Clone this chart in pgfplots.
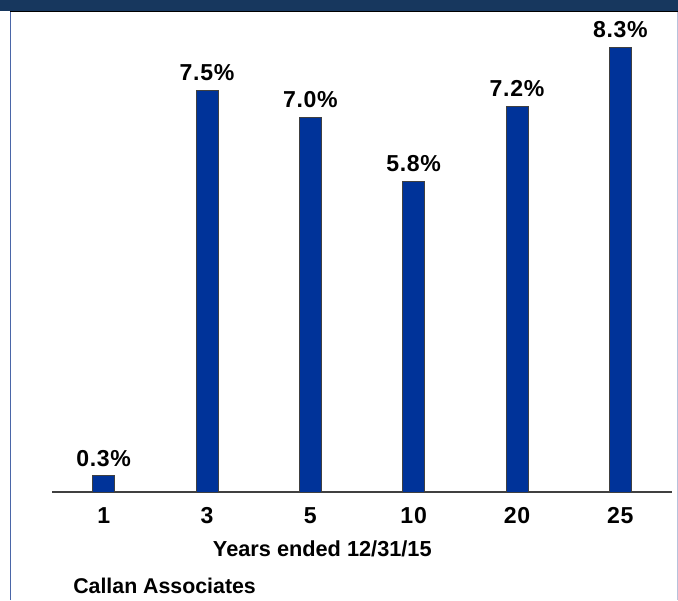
\documentclass[border=0pt]{standalone}
\usepackage{pgfplots}
\pgfplotsset{compat=1.18}
\usepackage{fontspec}
\setmainfont{Liberation Sans}
\definecolor{barblue}{HTML}{003399}
\definecolor{header}{HTML}{17375E}
\definecolor{frameblue}{HTML}{4A66A8}
\newcommand{\lblfont}{\fontsize{17.3}{20}\selectfont\bfseries\addfontfeature{LetterSpace=3}}
\begin{document}
\begin{tikzpicture}
  % page frame: 678 x 600 px at 0.75pt per px
  \path[use as bounding box] (0,0) rectangle (508.5pt,450pt);
  \fill[header] (0,441.5pt) rectangle (508.5pt,450pt);
  \draw[black, line width=1pt] (7.5pt,441.5pt) -- (508.5pt,441.5pt);
  \draw[frameblue, line width=0.75pt] (7.5pt,0) -- (7.5pt,441pt);
  \draw[frameblue!40, line width=0.75pt] (507.9pt,0) -- (507.9pt,441pt);

  \begin{axis}[
      at={(39pt,81pt)},
      anchor=south west,
      scale only axis,
      width=465pt,
      height=360pt,
      xmin=-0.5, xmax=5.5,
      ymin=0, ymax=8.96,
      axis x line*=bottom,
      axis y line=none,
      x axis line style={-, draw=black!75, line width=1pt},
      xtick=data,
      xticklabels={1,3,5,10,20,25},
      major tick length=0pt,
      xticklabel style={font=\lblfont, inner sep=0pt, yshift=-11.5pt},
      xlabel={Years ended 12/31/15},
      xlabel style={font=\fontsize{16.3}{19}\selectfont\bfseries, inner sep=0pt,
                    at={(axis description cs:0.436,0)}, anchor=north, yshift=-36pt},
      ybar,
      bar width=16.5pt,
      /pgf/number format/assume math mode=true,
      nodes near coords={\pgfmathprintnumber[fixed,fixed zerofill,precision=1]{\pgfplotspointmeta}\%},
      every node near coord/.append style={font=\lblfont,
                    inner sep=0pt, anchor=south, yshift=6.5pt},
      clip=false,
    ]
    \addplot[fill=barblue, draw=black!75, line width=0.75pt] coordinates {
      (0, 0.3)
      (1, 7.5)
      (2, 7.0)
      (3, 5.8)
      (4, 7.2)
      (5, 8.3)
    };
  \end{axis}

  \node[anchor=base west, inner sep=0pt, font=\fontsize{16}{19}\selectfont\bfseries]
    at (54.75pt,5.25pt) {Callan Associates};
\end{tikzpicture}
\end{document}
